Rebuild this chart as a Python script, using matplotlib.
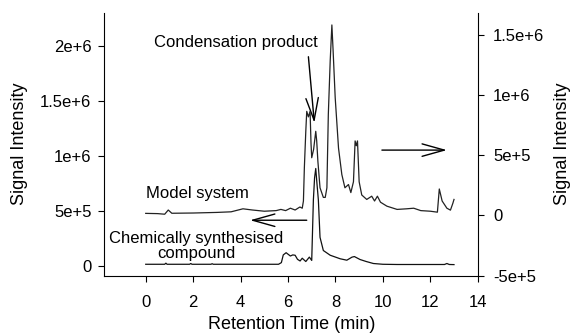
import matplotlib
matplotlib.use("Agg")
import matplotlib.pyplot as plt

plt.rcParams["font.family"] = ["Liberation Sans", "DejaVu Sans"]

# Model system trace (right axis), signal in units of 1e6
model_time = [0.0, 0.5, 0.8, 0.95, 1.1, 2.0, 3.0, 3.6, 4.1, 4.5, 5.0, 5.5,
              5.7, 5.9, 6.1, 6.3, 6.5, 6.6, 6.65, 6.69, 6.75, 6.79, 6.86,
              6.93, 6.97, 7.0, 7.08, 7.17, 7.21, 7.26, 7.35, 7.49, 7.57, 7.64,
              7.70, 7.78, 7.85, 7.90, 7.99, 8.13, 8.27, 8.4, 8.55, 8.65, 8.76,
              8.83, 8.88, 8.93, 9.0, 9.11, 9.32, 9.53, 9.65, 9.77, 9.9, 10.17,
              10.6, 11.0, 11.3, 11.6, 12.0, 12.3, 12.38, 12.5, 12.7, 12.85,
              12.95, 13.0]
model_signal = [0.017, 0.015, 0.01, 0.045, 0.018, 0.02, 0.025, 0.03, 0.055,
                0.045, 0.035, 0.04, 0.05, 0.04, 0.06, 0.045, 0.07, 0.06, 0.12,
                0.40, 0.7, 0.866, 0.82, 0.866, 0.6, 0.48, 0.55, 0.70, 0.62,
                0.45, 0.23, 0.15, 0.15, 0.23, 0.84, 1.29, 1.585, 1.38, 0.98,
                0.56, 0.34, 0.23, 0.257, 0.19, 0.28, 0.62, 0.58, 0.62, 0.28,
                0.17, 0.133, 0.16, 0.12, 0.16, 0.11, 0.077, 0.05, 0.055, 0.06,
                0.04, 0.035, 0.027, 0.22, 0.12, 0.06, 0.044, 0.1, 0.133]

# Chemically synthesised compound trace (left axis), signal in units of 1e6
chem_time = [0.0, 0.8, 0.85, 0.9, 1.85, 1.9, 1.95, 2.75, 2.8, 2.85, 5.6, 5.72,
             5.8, 5.92, 6.1, 6.2, 6.3, 6.4, 6.51, 6.6, 6.75, 6.9, 7.0, 7.07,
             7.12, 7.17, 7.22, 7.28, 7.35, 7.49, 7.78, 8.2, 8.48, 8.7, 8.8,
             9.04, 9.3, 9.6, 10.0, 10.6, 12.6, 12.7, 12.8, 13.0]
chem_signal = [0.015, 0.015, 0.025, 0.015, 0.015, 0.022, 0.015, 0.015, 0.02,
               0.015, 0.015, 0.03, 0.1, 0.12, 0.09, 0.1, 0.097, 0.06, 0.045,
               0.07, 0.04, 0.08, 0.05, 0.6, 0.8, 0.885, 0.75, 0.6, 0.26, 0.14,
               0.097, 0.065, 0.052, 0.08, 0.085, 0.058, 0.04, 0.022, 0.015,
               0.013, 0.013, 0.022, 0.013, 0.012]

x_ticks = [0, 2, 4, 6, 8, 10, 12, 14]
left_ticks = [0, 0.5e6, 1e6, 1.5e6, 2e6]
left_labels = ["0", "5e+5", "1e+6", "1.5e+6", "2e+6"]
right_ticks = [-0.5e6, 0, 0.5e6, 1e6, 1.5e6]
right_labels = ["-5e+5", "0", "5e+5", "1e+6", "1.5e+6"]

fig = plt.figure(figsize=(5.73, 3.35), dpi=100)
ax = fig.add_axes([0.1815, 0.1776, 0.6522, 0.7845])
ax2 = ax.twinx()

ax.plot(chem_time, [v * 1e6 for v in chem_signal], color="#111111", lw=0.9)
ax2.plot(model_time, [v * 1e6 for v in model_signal], color="#222222", lw=0.9)

ax.set_xlim(-1.76, 14)
ax.set_ylim(-0.087e6, 2.3e6)
ax2.set_ylim(-0.5e6, 1.687e6)

ax.set_xticks(x_ticks)
ax.set_yticks(left_ticks)
ax.set_yticklabels(left_labels)
ax2.set_yticks(right_ticks)
ax2.set_yticklabels(right_labels)

for a in (ax, ax2):
    a.spines["top"].set_visible(False)
ax.spines["right"].set_visible(False)
ax2.spines["left"].set_visible(False)
ax2.spines["bottom"].set_visible(False)

ax.tick_params(axis="y", labelsize=12, length=4, pad=5)
ax.tick_params(axis="x", labelsize=12, length=4, pad=10)
ax2.tick_params(axis="y", labelsize=12, length=4, pad=7)

ax.set_xlabel("Retention Time (min)", fontsize=13, va="center")
ax.xaxis.set_label_coords(0.502, -0.188)
ax.set_ylabel("Signal Intensity", fontsize=13, va="center")
ax.yaxis.set_label_coords(-0.225, 0.5)
ax2.set_ylabel("Signal Intensity", fontsize=13, va="center")
ax2.yaxis.set_label_coords(1.228, 0.5)

arrow = dict(arrowstyle="->,head_length=1.0,head_width=0.28", lw=1.0,
             color="black", shrinkA=0, shrinkB=0, mutation_scale=16)

ax.text(3.79, 2.025e6, "Condensation product", fontsize=12,
        ha="center", va="center")
ax.annotate("", xy=(7.11, 1.3e6), xytext=(6.86, 1.9e6), arrowprops=arrow)

ax.text(2.16, 0.658e6, "Model system", fontsize=12, ha="center", va="center")
ax.text(2.14, 0.179e6, "Chemically synthesised\ncompound", fontsize=12,
        ha="center", va="center", linespacing=1.0)

ax.annotate("", xy=(12.7, 1.052e6), xytext=(9.96, 1.052e6), arrowprops=arrow)
ax.annotate("", xy=(4.4, 0.415e6), xytext=(6.79, 0.415e6), arrowprops=arrow)

fig.savefig("out.png", dpi=100)
